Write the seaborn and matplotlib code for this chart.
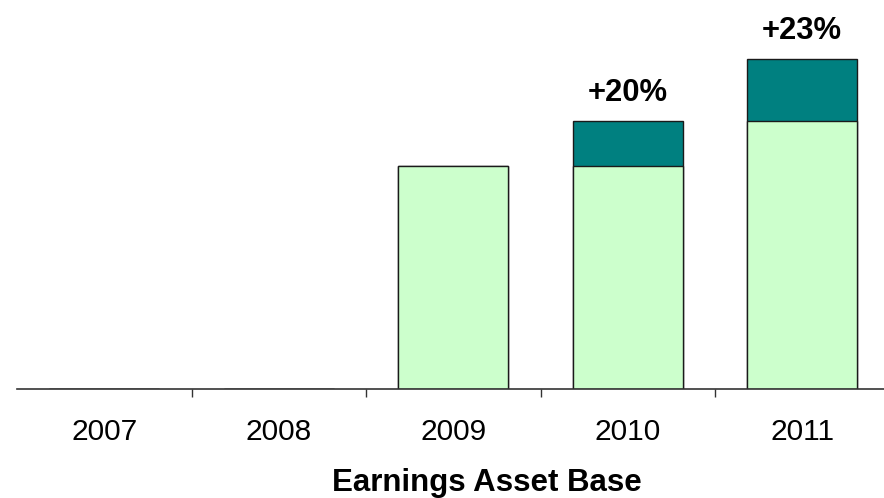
import seaborn as sns
import pandas as pd
import numpy as np
import matplotlib.pyplot as plt
from matplotlib.ticker import FixedLocator

# data (2009 = 100)
years = ["2007", "2008", "2009", "2010", "2011"]
base = [0, 0, 100, 100, 120]
total = [0, 0, 100, 120, 148]
growth = ["", "", "", "+20%", "+23%"]

df = pd.DataFrame({"year": years, "base": base, "total": total, "growth": growth})

sns.set_style("white")
plt.rcParams["font.family"] = ["Liberation Sans", "DejaVu Sans"]
plt.rcParams["text.color"] = "black"
plt.rcParams["xtick.color"] = "black"

fig = plt.figure(figsize=(8.84, 4.98), dpi=100)
ax = fig.add_axes([17 / 884, 109.3 / 498, 872.5 / 884, 388.7 / 498])

sns.barplot(x="year", y="total", data=df, color="#008080", width=0.63,
            edgecolor="#1a1a1a", linewidth=1, saturation=1, ax=ax)
sns.barplot(x="year", y="base", data=df, color="#CCFFCC", width=0.63,
            edgecolor="#1a1a1a", linewidth=1, saturation=1, ax=ax)

for i, row in df.iterrows():
    if row["growth"]:
        ax.annotate(row["growth"], (i, row["total"]), xytext=(0, 9.5),
                    textcoords="offset points", ha="center", va="bottom",
                    fontsize=22.3, fontweight="bold", color="black")

ax.set_xlim(-0.5, 4.5)
ax.set_ylim(0, 174.5)
ax.set_yticks([])
ax.set_ylabel("")
ax.set_xlabel("")
sns.despine(ax=ax, left=True)
ax.spines["bottom"].set_color("#333333")
ax.spines["bottom"].set_linewidth(1.2)

ax.tick_params(axis="x", which="major", length=0, pad=21, labelsize=21.5,
               labelcolor="black")
ax.xaxis.set_minor_locator(FixedLocator([0.5, 1.5, 2.5, 3.5]))
ax.tick_params(axis="x", which="minor", length=6, width=1, color="#333333",
               direction="out", bottom=True)

fig.text(487 / 884, 7 / 498, "Earnings Asset Base", ha="center",
         va="baseline", fontsize=22.5, fontweight="bold", color="black")

fig.savefig("out.png", dpi=100)
